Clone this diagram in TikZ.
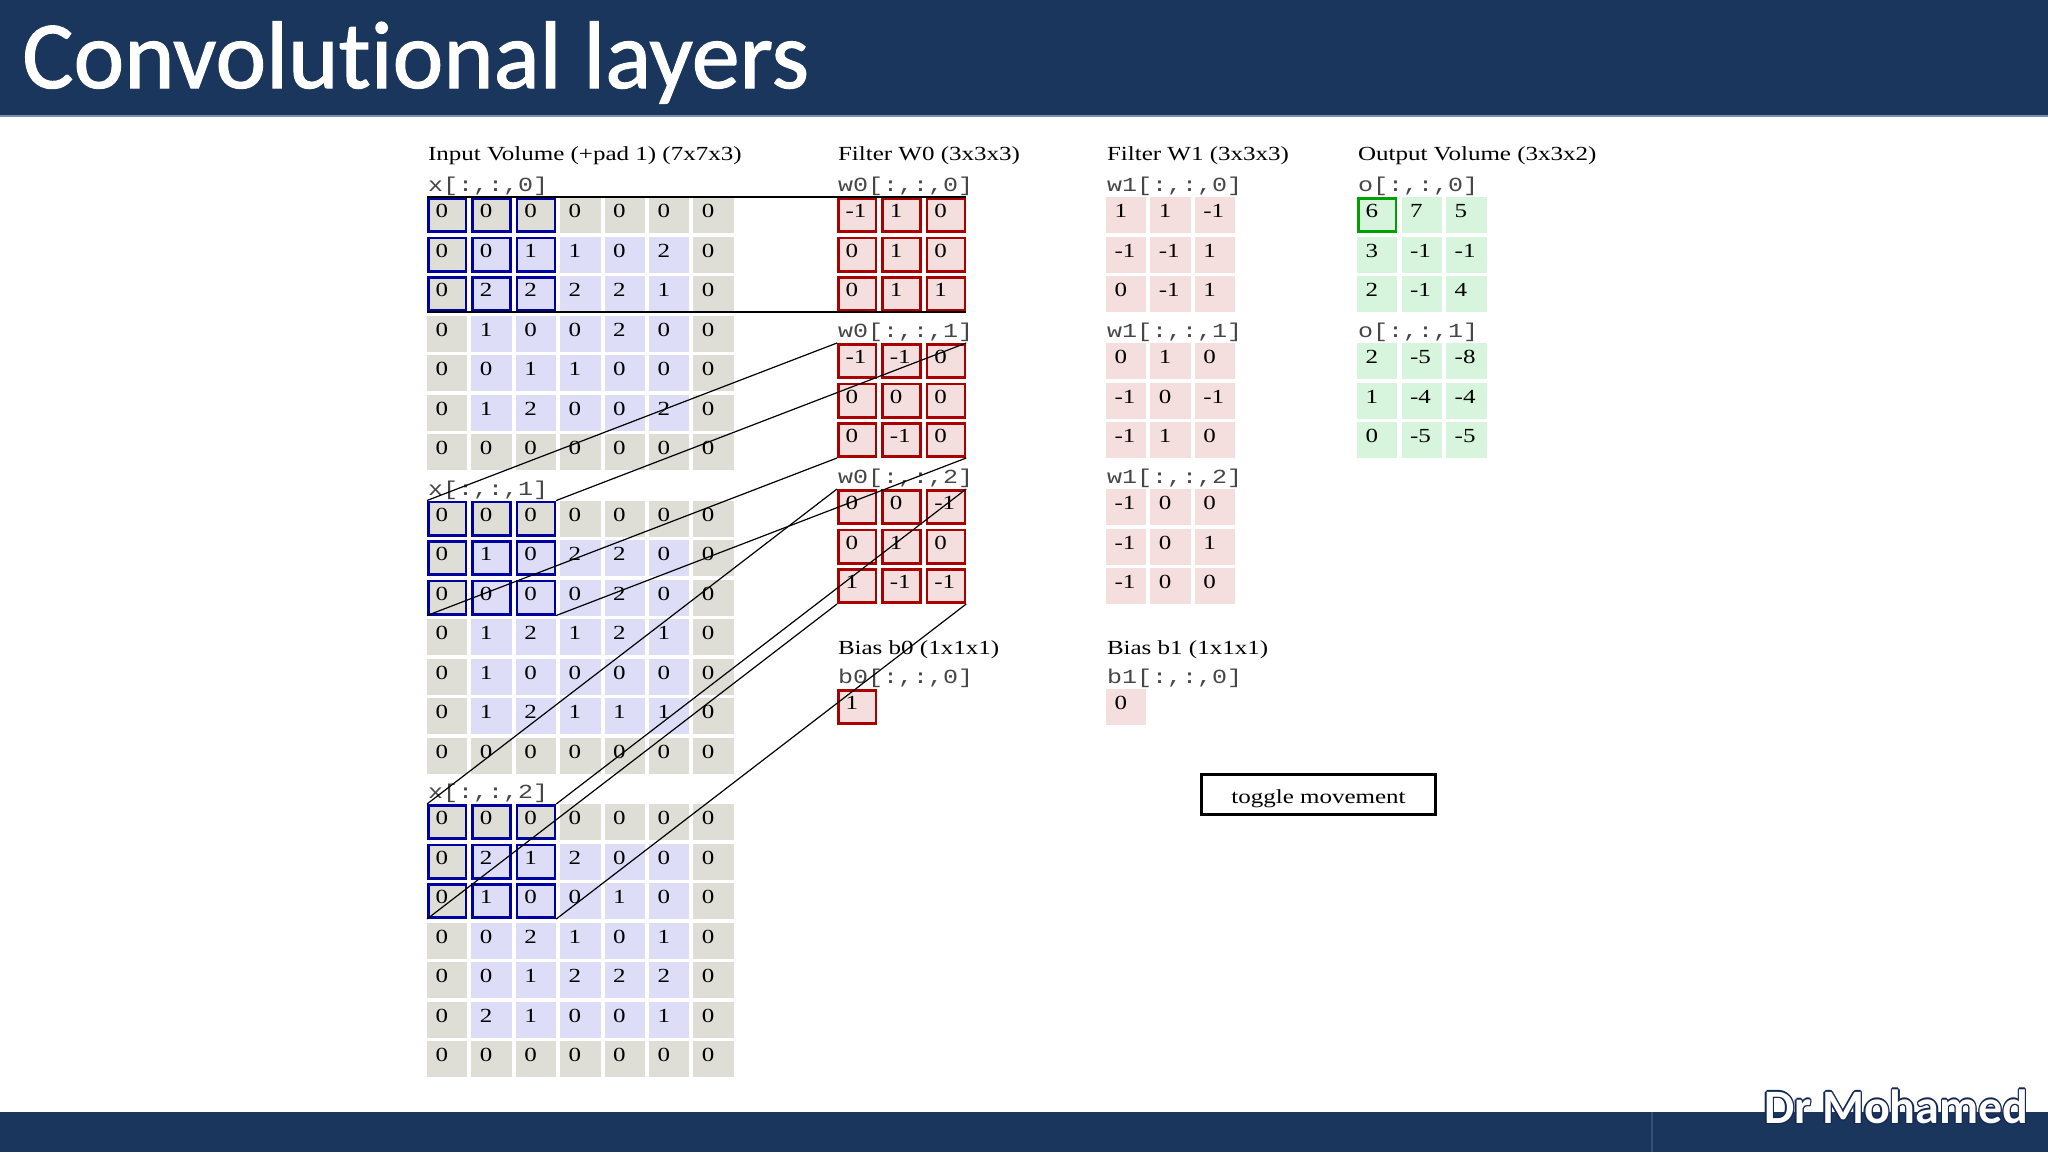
\documentclass[tikz,border=0pt]{standalone}
\usepackage{fontspec}
\setmainfont{Liberation Serif}[FakeStretch=1.25]
\newfontfamily\monof{Liberation Mono}[FakeStretch=1.25]
\newfontfamily\titlef{Carlito}[Ligatures={NoCommon,NoRare,NoContextual}]
\newfontfamily\titlereg{Carlito}[Ligatures={NoCommon,NoRare,NoContextual},FakeBold=1.2]
\definecolor{navy}{RGB}{27,54,93}
\definecolor{navyline}{RGB}{120,145,178}
\definecolor{navysep}{RGB}{52,80,118}
\definecolor{drout}{RGB}{20,40,85}
\definecolor{padc}{RGB}{222,222,214}
\definecolor{inc}{RGB}{221,221,247}
\definecolor{pinkc}{RGB}{245,222,222}
\definecolor{greenc}{RGB}{214,245,220}
\definecolor{blueb}{RGB}{0,0,160}
\definecolor{redb}{RGB}{170,0,0}
\definecolor{greenb}{RGB}{0,160,0}
\definecolor{monoc}{RGB}{70,70,70}
\newcommand\mkcell[6]{%
  \node[cellbox, fill=#4] (#1) at (#2,#3) {};
  \node[numtxt] (#1t) at ([shift={(8.5,20.5)}]#1.north west) {#6};
  \draw[line width=1.3pt, draw=#5] ([shift={(1.3,1.3)}]#1.north west) rectangle ([shift={(-1.3,-1.3)}]#1.south east);
}
% input grid: #1 index, #2 top y, #3 data
\newcommand\mkinput[3]{%
  \foreach \row [count=\r from 0] in #3 {
    \foreach \v [count=\c from 0] in \row {
      \pgfmathtruncatemacro\ispad{or(or(\r==0,\r==6),or(\c==0,\c==6))}
      \pgfmathtruncatemacro\iswin{and(\r<3,\c<3)}
      \ifnum\ispad=1 \def\fc{padc}\else\def\fc{inc}\fi
      \ifnum\iswin=1 \def\bc{blueb}\else\def\bc{none}\fi
      \mkcell{in#1-\r-\c}{427+\c*44.4}{#2+\r*39.5}{\fc}{\bc}{\v}
    }
  }
}
% 3x3 grid: #1 name prefix, #2 left x, #3 top y, #4 data, #5 fill, #6 border, #7 x pitch
\newcommand\mksmall[7]{%
  \foreach \row [count=\r from 0] in #4 {
    \foreach \v [count=\c from 0] in \row {
      \mkcell{#1-\r-\c}{#2+\c*#7}{#3+\r*39.5}{#5}{#6}{\v}
    }
  }
}
\def\inA{{0,0,0,0,0,0,0},{0,0,1,1,0,2,0},{0,2,2,2,2,1,0},{0,1,0,0,2,0,0},{0,0,1,1,0,0,0},{0,1,2,0,0,2,0},{0,0,0,0,0,0,0}}
\def\inB{{0,0,0,0,0,0,0},{0,1,0,2,2,0,0},{0,0,0,0,2,0,0},{0,1,2,1,2,1,0},{0,1,0,0,0,0,0},{0,1,2,1,1,1,0},{0,0,0,0,0,0,0}}
\def\inC{{0,0,0,0,0,0,0},{0,2,1,2,0,0,0},{0,1,0,0,1,0,0},{0,0,2,1,0,1,0},{0,0,1,2,2,2,0},{0,2,1,0,0,1,0},{0,0,0,0,0,0,0}}
\def\waA{{-1,1,0},{0,1,0},{0,1,1}}
\def\waB{{-1,-1,0},{0,0,0},{0,-1,0}}
\def\waC{{0,0,-1},{0,1,0},{1,-1,-1}}
\def\wbA{{1,1,-1},{-1,-1,1},{0,-1,1}}
\def\wbB{{0,1,0},{-1,0,-1},{-1,1,0}}
\def\wbC{{-1,0,0},{-1,0,1},{-1,0,0}}
\def\oA{{6,7,5},{3,-1,-1},{2,-1,4}}
\def\oB{{2,-5,-8},{1,-4,-4},{0,-5,-5}}
\begin{document}
\begin{tikzpicture}[x=0.5pt,y=-0.5pt,
  cellbox/.style={rectangle, inner sep=0, outer sep=0, minimum width=20.2pt, minimum height=18pt, anchor=north west, draw=none},
  numtxt/.style={anchor=base west, inner sep=0, outer sep=0, font=\fontsize{10pt}{12pt}\selectfont},
  hdr/.style={anchor=base west, inner sep=0, outer sep=0, font=\fontsize{10pt}{12pt}\selectfont},
  sub/.style={anchor=base west, inner sep=0, outer sep=0, text=monoc, font=\monof\fontsize{10pt}{12pt}\selectfont},
  conn/.style={draw=black, line width=0.6pt},
  drtext/.style={anchor=base west, inner sep=0, outer sep=0, font=\titlef\bfseries\fontsize{24pt}{26pt}\selectfont}]
\useasboundingbox (0,0) rectangle (2048,1152);
\fill[white] (0,0) rectangle (2048,1152);
% header and footer bars
\fill[navy] (0,0) rectangle (2048,115);
\fill[navyline] (0,115) rectangle (2048,117);
\fill[navy] (0,1112) rectangle (2048,1152);
\fill[navysep] (1651,1112) rectangle (1653,1152);
\node[anchor=base west, inner sep=0, text=white, font=\titlereg\fontsize{48pt}{50pt}\selectfont] (title) at (22,88) {Convolutional layers};
% headers
\node[hdr] (hin) at (428,160.7) {Input Volume (+pad 1) (7x7x3)};
\node[hdr] (hwa) at (838,160.7) {Filter W0 (3x3x3)};
\node[hdr] (hwb) at (1107,160.7) {Filter W1 (3x3x3)};
\node[hdr] (hout) at (1358,160.7) {Output Volume (3x3x2)};
\node[hdr] (hba) at (838,654) {Bias b0 (1x1x1)};
\node[hdr] (hbb) at (1107,654) {Bias b1 (1x1x1)};
% sub labels
\node[sub] (lx0) at (428,191.5) {x[:,:,0]};
\node[sub] (lx1) at (428,495) {x[:,:,1]};
\node[sub] (lx2) at (428,798.5) {x[:,:,2]};
\node[sub] (lwa0) at (838,191.5) {w0[:,:,0]};
\node[sub] (lwa1) at (838,337.5) {w0[:,:,1]};
\node[sub] (lwa2) at (838,483.5) {w0[:,:,2]};
\node[sub] (lwb0) at (1107,191.5) {w1[:,:,0]};
\node[sub] (lwb1) at (1107,337.5) {w1[:,:,1]};
\node[sub] (lwb2) at (1107,483.5) {w1[:,:,2]};
\node[sub] (lo0) at (1358,191.5) {o[:,:,0]};
\node[sub] (lo1) at (1358,337.5) {o[:,:,1]};
\node[sub] (lba) at (838,683.5) {b0[:,:,0]};
\node[sub] (lbb) at (1107,683.5) {b1[:,:,0]};
% input volume
\mkinput{0}{197}{\inA}
\mkinput{1}{500.5}{\inB}
\mkinput{2}{804}{\inC}
% filters
\mksmall{wa0}{837}{197}{\waA}{pinkc}{redb}{44.4}
\mksmall{wa1}{837}{343}{\waB}{pinkc}{redb}{44.4}
\mksmall{wa2}{837}{489}{\waC}{pinkc}{redb}{44.4}
\mksmall{wb0}{1106}{197}{\wbA}{pinkc}{none}{44.4}
\mksmall{wb1}{1106}{343}{\wbB}{pinkc}{none}{44.4}
\mksmall{wb2}{1106}{489}{\wbC}{pinkc}{none}{44.4}
% output
\mksmall{o0}{1357}{197}{\oA}{greenc}{none}{44.6}
\mksmall{o1}{1357}{343}{\oB}{greenc}{none}{44.6}
\draw[line width=1.3pt, draw=greenb] ([shift={(1.3,1.3)}]o0-0-0.north west) rectangle ([shift={(-1.3,-1.3)}]o0-0-0.south east);
% biases
\mkcell{bA}{837}{689}{pinkc}{redb}{1}
\mkcell{bB}{1106}{689}{pinkc}{none}{0}
% toggle button
\node[draw=black, line width=1.4pt, minimum width=117pt, minimum height=20.3pt, inner sep=0] (toggle) at (1318.5,794.5) {};
\node[hdr, anchor=base] (togglet) at (1318.5,803.3) {toggle movement};
% connectors
\foreach \k in {0,1,2}{
  \draw[conn] (in\k-0-0.north west) -- (wa\k-0-0.north west);
  \draw[conn] (in\k-0-2.north east) -- (wa\k-0-2.north east);
  \draw[conn] (in\k-2-0.south west) -- (wa\k-2-0.south west);
  \draw[conn] (in\k-2-2.south east) -- (wa\k-2-2.south east);
}
% signature
\foreach \dx/\dy [count=\i] in {-1.4/0,1.4/0,0/-1.4,0/1.4,-1/-1,1/1,-1/1,1/-1}{
  \node[drtext, text=drout] (drs\i) at (1764+\dx,1123+\dy) {Dr Mohamed};
}
\node[drtext, text=white] (dr) at (1764,1123) {Dr Mohamed};
\end{tikzpicture}
\end{document}
